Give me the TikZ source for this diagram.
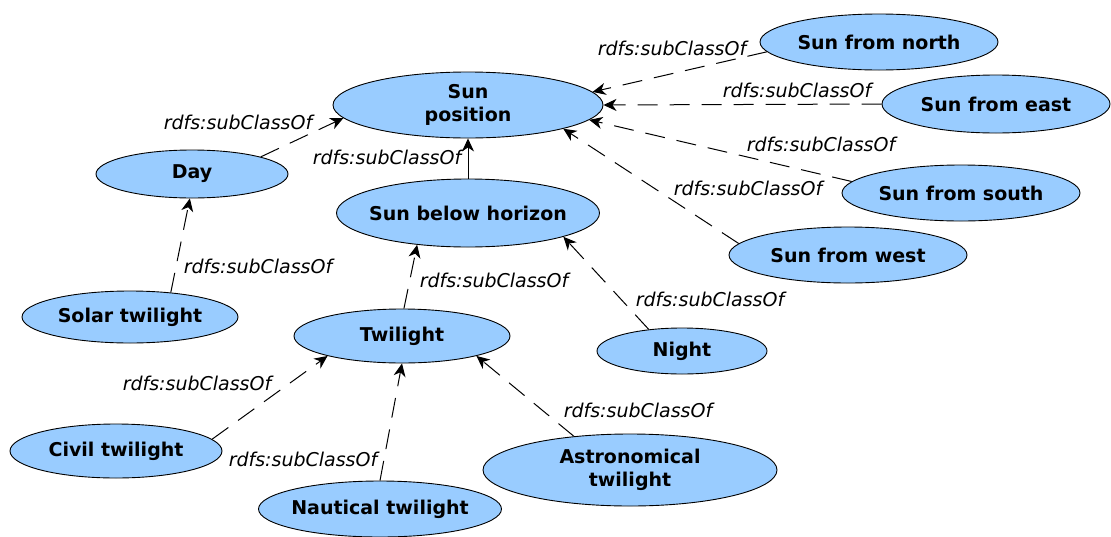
\documentclass[tikz,border=0pt]{standalone}
\usepackage{fontspec}
\setmainfont{DejaVu Sans}
\usetikzlibrary{shapes.geometric,arrows.meta}
\definecolor{nodeblue}{RGB}{153,204,255}
\tikzset{
  cls/.style={ellipse, draw=black, fill=nodeblue, line width=0.9pt, inner xsep=-15pt, inner ysep=0pt, align=center,
    font=\fontsize{19}{23}\selectfont\bfseries},
  sub/.style={-{Stealth[length=13pt,width=12pt,inset=4pt]}, line width=1pt, dash pattern=on 20pt off 12pt},
  lbl/.style={font=\fontsize{19}{23}\selectfont\itshape, inner sep=0pt}
}
\begin{document}
\begin{tikzpicture}[x=1pt,y=-1pt]
\useasboundingbox (0,0) rectangle (1111,536);
% nodes
\node[cls, minimum width=270pt, minimum height=66pt] (sp) at (468,105) {Sun\\position};
\node[cls, minimum width=238pt, minimum height=56pt] (north) at (879,42) {Sun from north};
\node[cls, minimum width=228pt, minimum height=58pt] (east) at (996,104) {Sun from east};
\node[cls, minimum width=238pt, minimum height=56pt] (south) at (961,193) {Sun from south};
\node[cls, minimum width=238pt, minimum height=56pt] (west) at (848,255) {Sun from west};
\node[cls, minimum width=192pt, minimum height=48pt] (day) at (192,174) {Day};
\node[cls, minimum width=263pt, minimum height=68pt] (sbh) at (468,213) {Sun below horizon};
\node[cls, minimum width=216pt, minimum height=52pt] (solar) at (130,317) {Solar twilight};
\node[cls, minimum width=216pt, minimum height=54pt] (twi) at (402,336) {Twilight};
\node[cls, minimum width=170pt, minimum height=46pt] (night) at (682,351) {Night};
\node[cls, minimum width=212pt, minimum height=54pt] (civil) at (116,451) {Civil twilight};
\node[cls, minimum width=243pt, minimum height=56pt] (naut) at (380,509) {Nautical twilight};
\node[cls, minimum width=294pt, minimum height=72pt] (astro) at (630,470) {Astronomical\\twilight};
% edges
\draw[sub] (day.14) -- (sp.186);
\draw[sub, solid] (sbh.north) -- (sp.south);
\draw[sub] (north.185) -- (sp.6);
\draw[sub] (east.west) -- (sp.east);
\draw[sub] (south.174) -- (sp.353);
\draw[sub] (west.174) -- (sp.346);
\draw[sub] (solar.31) -- (day.265);
\draw[sub] (twi.86) -- (sbh.212);
\draw[sub] (night.147) -- (sbh.346);
\draw[sub] (civil.7) -- (twi.195);
\draw[sub] (naut.north) -- (twi.south);
\draw[sub] (astro.149) -- (twi.345);
% labels
\node[lbl] (l1) at (238,122) {rdfs:subClassOf};
\node[lbl] (l2) at (387,157) {rdfs:subClassOf};
\node[lbl] (l3) at (672,48) {rdfs:subClassOf};
\node[lbl] (l4) at (797,90) {rdfs:subClassOf};
\node[lbl] (l5) at (821,144) {rdfs:subClassOf};
\node[lbl] (l6) at (748,188) {rdfs:subClassOf};
\node[lbl] (l7) at (258,266) {rdfs:subClassOf};
\node[lbl] (l8) at (494,280) {rdfs:subClassOf};
\node[lbl] (l9) at (710,299) {rdfs:subClassOf};
\node[lbl] (l10) at (197,383) {rdfs:subClassOf};
\node[lbl] (l11) at (303,459) {rdfs:subClassOf};
\node[lbl] (l12) at (638,410) {rdfs:subClassOf};
\end{tikzpicture}
\end{document}
